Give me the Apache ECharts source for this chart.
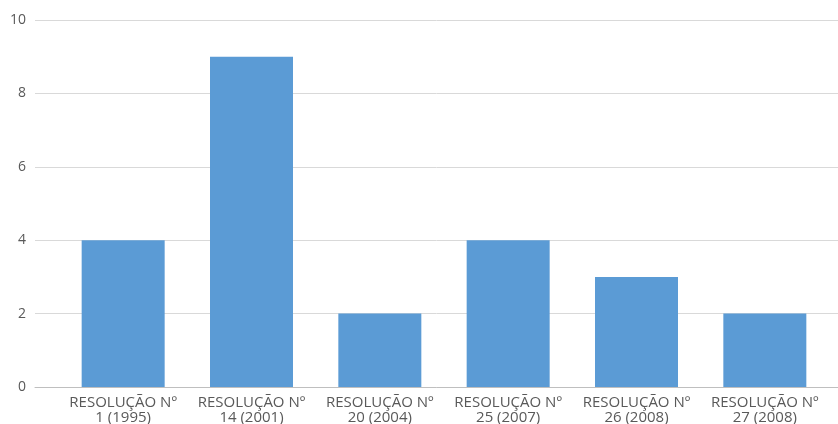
<!DOCTYPE html>
<html>
<head>
<meta charset="utf-8">
<script src="https://cdn.jsdelivr.net/npm/echarts@6/dist/echarts.min.js"></script>
<style>html,body{margin:0;padding:0;background:#fff}#chart{width:838px;height:424px}</style>
</head>
<body>
<div id="chart"></div>
<script>
const categories = [
  'RESOLUÇÃO Nº\n1 (1995)',
  'RESOLUÇÃO Nº\n14 (2001)',
  'RESOLUÇÃO Nº\n20 (2004)',
  'RESOLUÇÃO Nº\n25 (2007)',
  'RESOLUÇÃO Nº\n26 (2008)',
  'RESOLUÇÃO Nº\n27 (2008)'
];
const values = [4, 9, 2, 4, 3, 2];
const yTicks = { min: 0, max: 10, interval: 2 };

const chart = echarts.init(document.getElementById('chart'));
const labelFont = { color: '#595959', fontFamily: 'Open Sans, DejaVu Sans, sans-serif' };
chart.setOption({
  animation: false,
  grid: [
    { left: 35, right: 0, top: 20, bottom: 37, outerBoundsMode: 'none', containLabel: false },
    { left: 59, right: 9, top: 20, bottom: 37, outerBoundsMode: 'none', containLabel: false }
  ],
  xAxis: [
    { gridIndex: 0, type: 'category', data: [''], axisLine: { lineStyle: { color: '#bfbfbf', width: 1 } }, axisTick: { show: false }, axisLabel: { show: false } },
    { gridIndex: 1, type: 'category', data: categories, axisLine: { show: false }, axisTick: { show: false },
      axisLabel: Object.assign({ margin: 8, fontSize: 15, lineHeight: 15, interval: 0 }, labelFont) }
  ],
  yAxis: [
    { gridIndex: 0, type: 'value', min: yTicks.min, max: yTicks.max, interval: yTicks.interval,
      axisLine: { show: false }, axisTick: { show: false },
      axisLabel: Object.assign({ margin: 9, fontSize: 14 }, labelFont),
      splitLine: { lineStyle: { color: '#d9d9d9', width: 1 } } },
    { gridIndex: 1, type: 'value', min: yTicks.min, max: yTicks.max, interval: yTicks.interval, show: false }
  ],
  series: [{
    type: 'bar',
    xAxisIndex: 1,
    yAxisIndex: 1,
    data: values,
    barWidth: 83,
    itemStyle: { color: '#5b9bd5' }
  }]
});
</script>
</body>
</html>
